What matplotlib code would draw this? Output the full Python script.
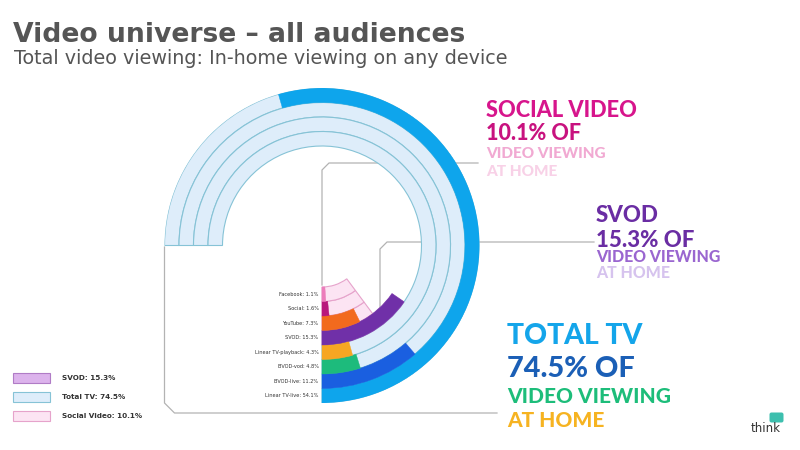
import numpy as np
import matplotlib
matplotlib.use("Agg")
import matplotlib.pyplot as plt
from matplotlib.patches import Rectangle, FancyBboxPatch

# ---------------- data ----------------
ring_labels = ["Linear TV-live", "BVOD-live", "BVOD-vod", "Linear TV-playback",
               "SVOD", "YouTube", "Social", "Facebook"]
ring_values = [54.1, 11.2, 4.8, 4.3, 15.3, 7.3, 1.6, 1.1]
ring_colors = ["#0ea5ec", "#1a5fe0", "#1dbb7c", "#f6a623",
               "#7030a8", "#f26a1e", "#b8177c", "#ec7dbb"]
ring_group = ["tv", "tv", "tv", "tv", "svod", "social", "social", "social"]

group_totals = {"tv": 74.5, "svod": 15.3, "social": 10.1}
group_names = {"svod": "SVOD", "tv": "Total TV", "social": "Social Video"}
track_face = {"tv": "#deedfa", "svod": "#dcb3ec", "social": "#fce4f3"}
track_edge = {"tv": "#86c3d6", "svod": "#b07cc6", "social": "#e6a3cb"}

scale_max = 74.5          # value that fills the full 270 degree sweep
sweep = 1.5 * np.pi

# ---------------- figure ----------------
W, H = 800, 450
fig = plt.figure(figsize=(W / 100, H / 100), dpi=100)
fig.patch.set_facecolor("white")

ov = fig.add_axes([0, 0, 1, 1])
ov.set_xlim(0, W)
ov.set_ylim(H, 0)
ov.axis("off")

CX, CY, R = 322, 245.5, 157.5
ring_w = 14.5
pax = fig.add_axes([(CX - R) / W, (H - CY - R) / H, 2 * R / W, 2 * R / H],
                   projection="polar")
pax.set_theta_zero_location("S")
pax.set_theta_direction(1)
pax.set_ylim(0, R)
pax.axis("off")
pax.patch.set_alpha(0)

def to_theta(v):
    return v / scale_max * sweep

for i, (lab, val, col, grp) in enumerate(zip(ring_labels, ring_values, ring_colors, ring_group)):
    r_in = R - (i + 1) * ring_w
    pax.bar(0, ring_w, width=to_theta(group_totals[grp]), bottom=r_in, align="edge",
            color=track_face[grp], edgecolor=track_edge[grp], linewidth=0.8, zorder=1)
    pax.bar(0, ring_w, width=to_theta(val), bottom=r_in, align="edge",
            color=col, edgecolor=col, linewidth=0.3, zorder=2)
    pax.annotate(f"{lab}: {val}%", xy=(0, r_in + ring_w / 2), xytext=(-2.5, 0),
                 textcoords="offset points", ha="right", va="center",
                 fontsize=3.6, color="#333333", zorder=3)

# ---------------- connector lines ----------------
lc = "#b3b3b3"
lw = 0.9
b = 7
ov.plot([CX, CX, CX + b, 478], [285, 163 + b, 163, 163], color=lc, lw=lw, zorder=5)
ov.plot([380, 380, 380 + b, 594], [310, 242 + b, 242, 242], color=lc, lw=lw, zorder=5)
ov.plot([CX - R, CX - R, CX - R + b + 3, 497], [247, 403, 413, 413], color=lc, lw=lw, zorder=0)

# ---------------- titles ----------------
ov.text(13, 41.5, "Video universe \u2013 all audiences", fontsize=19.2, fontweight="bold",
        color="#555555", va="baseline", ha="left")
ov.text(14, 64, "Total video viewing: In-home viewing on any device", fontsize=13.8,
        color="#555555", va="baseline", ha="left")

# ---------------- callout text blocks ----------------
def block(x, lines):
    for txt, base, size, col in lines:
        ov.text(x, base, txt, fontsize=size, family="Lato", fontweight="black", color=col,
                va="baseline", ha="left")

block(486, [("SOCIAL VIDEO", 116.8, 15.7, "#d7158c"),
            ("10.1% OF", 139.5, 15.5, "#c8127f"),
            ("VIDEO VIEWING", 158.3, 11.1, "#f1a9d2"),
            ("AT HOME", 176.5, 11.1, "#f8d1e7")])
block(596, [("SVOD", 221.7, 16, "#6a2da3"),
            ("15.3% OF", 247, 16, "#6a2da3"),
            ("VIDEO VIEWING", 262.5, 11.4, "#9a66d0"),
            ("AT HOME", 278.5, 11.4, "#d6c3ee")])
block(507, [("TOTAL TV", 343.5, 20.4, "#14a5ea"),
            ("74.5% OF", 377, 20.8, "#1b5fb6"),
            ("VIDEO VIEWING", 403, 15.0, "#1dbd7a"),
            ("AT HOME", 427, 15.0, "#f6b321")])

# ---------------- legend ----------------
leg_groups = ["svod", "tv", "social"]
for k, grp in enumerate(leg_groups):
    y0 = 373 + k * 19
    ov.add_patch(Rectangle((13, y0), 37, 9.5, facecolor=track_face[grp],
                           edgecolor=track_edge[grp], linewidth=0.8))
    ov.text(62, y0 + 5, f"{group_names[grp]}: {group_totals[grp]}%", fontsize=5.2,
            fontweight="bold", color="#333333", va="center", ha="left")

# ---------------- logo ----------------
ov.add_patch(FancyBboxPatch((770, 413), 13, 9, boxstyle="round,pad=0.5,rounding_size=2",
                            facecolor="#3dbfae", edgecolor="none"))
ov.text(751, 432, "think", fontsize=8.5, color="#333333", va="baseline", ha="left")

fig.savefig("out.png", dpi=100, facecolor="white")
